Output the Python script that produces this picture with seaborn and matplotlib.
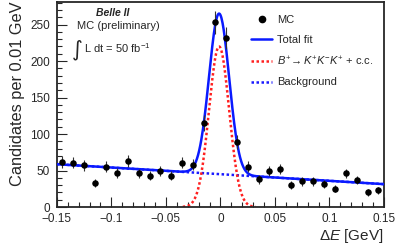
import numpy as np
import pandas as pd
import seaborn as sns
import matplotlib
matplotlib.use("Agg")
import matplotlib.pyplot as plt
from matplotlib.lines import Line2D
from matplotlib.ticker import MultipleLocator, FuncFormatter

# ----- MC histogram, bins of 0.01 GeV -----
bin_centers = [-0.145, -0.135, -0.125, -0.115, -0.105, -0.095, -0.085, -0.075, -0.065, -0.055,
               -0.045, -0.035, -0.025, -0.015, -0.005, 0.005, 0.015, 0.025, 0.035, 0.045,
               0.055, 0.065, 0.075, 0.085, 0.095, 0.105, 0.115, 0.125, 0.135, 0.145]
counts = [62, 61, 57, 33, 55, 47, 63, 46, 43, 49,
          43, 61, 58, 115, 253, 232, 89, 55, 38, 49,
          52, 30, 35, 35, 31, 25, 46, 37, 20, 23]

# ----- fit result (gaussian signal + linear background) -----
sig_peak = 220.0
sig_mean = -0.0012
sig_width = 0.0092
bkg_at_zero = 45.0
bkg_slope = -91.0

legend_labels = ["MC", "Total fit", r"$B^{+}\!\rightarrow K^{+}K^{-}K^{+}$ + c.c.", "Background"]

sns.set_style("ticks")
plt.rcParams['font.family'] = ['Liberation Sans', 'DejaVu Sans']
plt.rcParams['mathtext.fontset'] = 'custom'
plt.rcParams['mathtext.rm'] = 'Liberation Sans'
plt.rcParams['mathtext.it'] = 'Liberation Sans:italic'

mc = pd.DataFrame({"dE": bin_centers, "n": counts})
mc["err"] = np.sqrt(mc["n"])

grid = np.linspace(-0.15, 0.15, 601)
curves = pd.DataFrame({"dE": grid})
curves["bkg"] = bkg_at_zero + bkg_slope * curves["dE"]
curves["sig"] = sig_peak * np.exp(-0.5 * ((curves["dE"] - sig_mean) / sig_width) ** 2)
curves["tot"] = curves["bkg"] + curves["sig"]
sig_vis = curves[curves["sig"] > 0.3]

fig = plt.figure(figsize=(3.95, 2.45), dpi=100)
ax = fig.add_axes([0.144, 0.155, 0.828, 0.837])

sns.lineplot(data=curves, x="dE", y="bkg", ax=ax, color="#1a1aff", lw=1.8,
             linestyle=(0, (1, 1)), zorder=2)
sns.lineplot(data=sig_vis, x="dE", y="sig", ax=ax, color="#ff2020", lw=1.8,
             linestyle=(0, (1, 1)), zorder=2)
sns.lineplot(data=curves, x="dE", y="tot", ax=ax, color="#0a1aff", lw=1.8, zorder=3)
ax.errorbar(mc["dE"], mc["n"], yerr=mc["err"], fmt="none", ecolor="#333333",
            elinewidth=0.8, capsize=0, zorder=4)
sns.scatterplot(data=mc, x="dE", y="n", ax=ax, color="black", s=22,
                edgecolor="black", linewidth=0, zorder=5)

ax.set_xlim(-0.15, 0.15)
ax.set_ylim(0, 281)
ax.xaxis.set_major_locator(MultipleLocator(0.05))
ax.xaxis.set_minor_locator(MultipleLocator(0.01))
ax.yaxis.set_major_locator(MultipleLocator(50))
ax.yaxis.set_minor_locator(MultipleLocator(10))
ax.xaxis.set_major_formatter(FuncFormatter(lambda v, p: ("%g" % round(v, 3)).replace("-", "\u2212")))
ax.tick_params(which="both", direction="in", top=False, right=False, labelsize=8.5)
ax.tick_params(axis="x", pad=4.5)
ax.tick_params(axis="y", pad=5)
ax.tick_params(which="major", length=7, width=0.8)
ax.tick_params(which="minor", length=3.5, width=0.8)
for s in ax.spines.values():
    s.set_linewidth(1.3)
    s.set_visible(True)

ax.set_xlabel(r"$\Delta E$ [GeV]", fontsize=11, loc="right", labelpad=1)
ax.set_ylabel("Candidates per 0.01 GeV", fontsize=11.8, loc="top", labelpad=4)

ax.text(0.12, 0.948, "Belle II", transform=ax.transAxes, fontsize=7.5,
        fontweight="bold", fontstyle="italic", ha="left", va="center")
ax.text(0.06, 0.884, "MC (preliminary)", transform=ax.transAxes, fontsize=8,
        ha="left", va="center")
ax.text(0.045, 0.765, "\u222b", transform=ax.transAxes, fontsize=15,
        family="DejaVu Sans", ha="left", va="center")
ax.text(0.082, 0.775, "L dt = 50 fb$^{-1}$", transform=ax.transAxes, fontsize=8,
        ha="left", va="center")

handles = [
    Line2D([], [], marker="o", color="black", ls="none", markersize=4.5),
    Line2D([], [], color="#0a1aff", lw=1.8),
    Line2D([], [], color="#ff2020", lw=1.8, ls=(0, (1, 1))),
    Line2D([], [], color="#1a1aff", lw=1.8, ls=(0, (1, 1))),
]
ax.legend(handles, legend_labels, loc="upper left", bbox_to_anchor=(0.57, 0.975),
          frameon=False, fontsize=8, handlelength=1.9, handletextpad=0.45,
          labelspacing=0.88, borderaxespad=0.3)

fig.savefig("out.png", dpi=100)
